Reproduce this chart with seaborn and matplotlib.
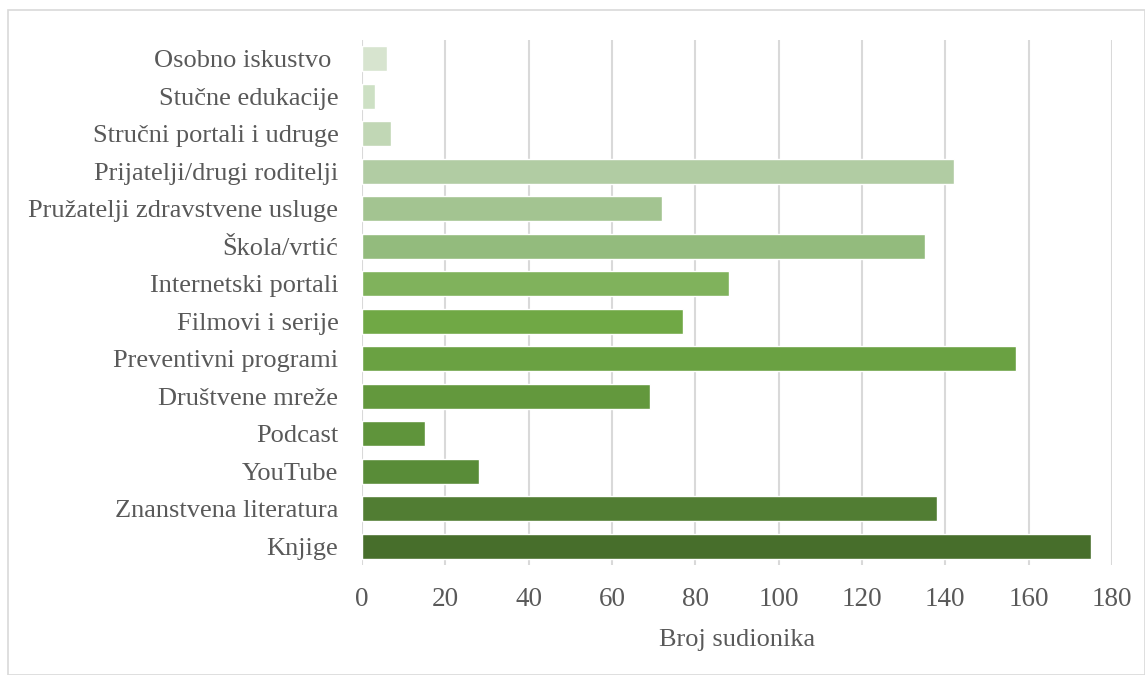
import pandas as pd
import seaborn as sns
import matplotlib.pyplot as plt
from matplotlib.patches import Rectangle


categories = ['Osobno iskustvo ', 'Stučne edukacije', 'Stručni portali i udruge',
              'Prijatelji/drugi roditelji', 'Pružatelji zdravstvene usluge',
              'Škola/vrtić', 'Internetski portali', 'Filmovi i serije',
              'Preventivni programi', 'Društvene mreže', 'Podcast', 'YouTube',
              'Znanstvena literatura', 'Knjige']
counts = [6, 3, 7, 142, 72, 135, 88, 77, 157, 69, 15, 28, 138, 175]

bar_colors = ['#d7e4cf', '#cde0c4', '#c1d7b5', '#b1cca3', '#a3c491', '#93bb7d',
              '#80b25c', '#70a845', '#6aa142', '#63983d', '#5f943b', '#598c38',
              '#517d33', '#476e2b']

df = pd.DataFrame({'izvor': categories, 'broj': counts})

sns.set_style('white')
plt.rcParams['font.family'] = ['Liberation Serif', 'DejaVu Serif']

fig = plt.figure(figsize=(11.45, 6.75), dpi=100)
ax = fig.add_axes([362 / 1145, 1 - 565 / 675, (1112 - 362) / 1145, (565 - 40) / 675])

sns.barplot(data=df, x='broj', y='izvor', hue='izvor', palette=bar_colors,
            legend=False, width=0.67, saturation=1, ax=ax, zorder=3)

ax.set_xlim(0, 180)
ax.set_xticks(range(0, 181, 20))
ax.xaxis.grid(True, color='#d9d9d9', linewidth=1.5, zorder=0)
ax.yaxis.grid(False)
sns.despine(ax=ax, left=True, bottom=True)
ax.tick_params(axis='both', length=0, labelcolor='#595959')
ax.tick_params(axis='y', labelsize=19, pad=17)
ax.tick_params(axis='x', labelsize=19.5, pad=16)
ax.set_ylabel('')
ax.set_xlabel('Broj sudionika', fontsize=19, color='#595959', labelpad=12)

# outer chart border
fig.patches.append(Rectangle((8 / 1145, 0), 1 - 8 / 1145, 1 - 10 / 675,
                             transform=fig.transFigure, fill=False,
                             edgecolor='#d9d9d9', linewidth=1.2))

fig.savefig('out.png', dpi=100)
